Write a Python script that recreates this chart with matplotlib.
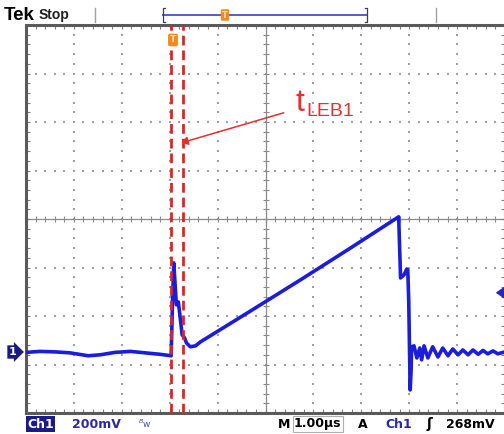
import matplotlib
matplotlib.use("Agg")
import matplotlib.pyplot as plt
import numpy as np
from matplotlib.patches import FancyArrowPatch

# ---------------- data ----------------
# time in microseconds from left edge of screen, voltage in mV relative to ground
t_us = [0.00, 0.29, 0.61, 0.92, 1.30, 1.55, 1.86, 2.18, 2.49, 2.80, 3.03,
        3.06, 3.085, 3.12, 3.14, 3.18, 3.22, 3.26, 3.31, 3.35, 3.43, 3.54, 3.64,
        4.69, 5.73, 6.78, 7.78,
        7.82, 7.89, 7.95, 7.97, 7.99, 8.02, 8.04, 8.05, 8.10, 8.16, 8.22, 8.26,
        8.31, 8.39, 8.49, 8.60, 8.70, 8.81, 8.91, 9.02, 9.12, 9.23, 9.33, 9.44,
        9.54, 9.64, 9.75, 9.85, 10.0]
v_mV = [-2, 2, 0, -4, -16, -12, -2, 2, -4, -10, -16,
        214, 367, 256, 194, 206, 140, 70, 58, 37, 21, 25, 41,
        169, 297, 429, 557,
        305, 317, 342, 338, 214, -157, -74, 21, 25, -25, 16, -33,
        25, -25, 21, -21, 16, -16, 12, -12, 8, -12, 8, -10,
        6, -8, 4, -8, 0]
volts_per_div_mV = 200
ground_div = -2.74          # ground marker position in divisions from centre
cursor_t = [3.03, 3.28]     # LEB cursor positions (us)
trig_level_div = -1.52      # trigger level arrow position (divisions from centre)

W, H = 504, 434
fig = plt.figure(figsize=(W / 100, H / 100), dpi=100)
fig.patch.set_facecolor("white")

L, T, R, B = 26, 25, 505, 413
ax = fig.add_axes([L / W, 1 - B / H, (R - L) / W, (B - T) / H])
ax.set_xlim(0, 10)
ax.set_ylim(-4, 4)
ax.set_facecolor("white")

# border
for s in ax.spines.values():
    s.set_color("#5a5a5a")
    s.set_linewidth(2.2)
ax.set_xticks([])
ax.set_yticks([])
ax.set_xticks(np.arange(0, 10.01, 0.2), minor=True)
ax.set_yticks(np.arange(-4, 4.01, 0.2), minor=True)
ax.tick_params(which="minor", direction="in", length=3, width=0.8, color="#808080",
               top=True, right=True, labelbottom=False, labelleft=False)

# dotted graticule
gc = "#a0a0a0"
for gx in range(1, 10):
    if gx == 5:
        continue
    ys = np.arange(-4, 4.01, 0.2)
    ax.scatter(np.full_like(ys, gx), ys, s=2.0, color=gc, marker="s", lw=0, zorder=1)
for gy in range(-3, 4):
    if gy == 0:
        continue
    xs = np.arange(0, 10.01, 0.2)
    ax.scatter(xs, np.full_like(xs, gy), s=2.0, color=gc, marker="s", lw=0, zorder=1)

# centre crosshair with ticks
ax.axhline(0, color="#8a8a8a", lw=0.9, zorder=1)
ax.axvline(5, color="#8a8a8a", lw=0.9, zorder=1)
xs = np.arange(0, 10.01, 0.2)
ys = np.arange(-4, 4.01, 0.2)
ax.plot(xs, np.zeros_like(xs), ls="none", marker="|", ms=5, mew=0.8, color="#8a8a8a", zorder=1)
ax.plot(np.full_like(ys, 5), ys, ls="none", marker="_", ms=5, mew=0.8, color="#8a8a8a", zorder=1)

# waveform
y_div = np.array(v_mV) / volts_per_div_mV + ground_div
ax.plot(t_us, y_div, color="#1c1cdc", lw=2.6, solid_joinstyle="round", zorder=3)

# cursors
for ct in cursor_t:
    ax.axvline(ct, color="#e52222", lw=2.0, ls=(0, (3.5, 1.8)), zorder=4)

# annotation
red = "#e63030"
arr = FancyArrowPatch((5.38, 2.19), (3.24, 1.57), arrowstyle="-|>,head_length=4,head_width=2.5",
                      color=red, lw=1.1, zorder=5, shrinkA=0, shrinkB=0)
ax.add_patch(arr)

# -------------- overlay in pixel coordinates for screen chrome --------------
ov = fig.add_axes([0, 0, 1, 1], zorder=10)
ov.set_xlim(0, W)
ov.set_ylim(H, 0)
ov.axis("off")
ov.patch.set_visible(False)

ov.text(296, 111, "t", color=red, fontsize=23, family="Liberation Sans", va="baseline", ha="left")
ov.text(306, 116, "LEB1", color=red, fontsize=14, family="Liberation Sans", va="baseline", ha="left")

# top line
ov.text(4, 15, "Tek", fontsize=13.5, fontweight="heavy", family="Liberation Sans", color="black",
        va="center", ha="left")
ov.text(39, 15, "Stop", fontsize=10, fontweight="bold", family="Liberation Sans", color="#202020",
        va="center", ha="left")
ov.plot([95, 95], [8, 22], color="#a0a0a0", lw=1)
ov.plot([436, 436], [8, 22], color="#a0a0a0", lw=1)
bc = "#5a5ac8"
ov.plot([163, 367], [15, 15], color=bc, lw=1.4)
ov.plot([165, 163, 163, 165], [8, 8, 22, 22], color="#404040", lw=0.9)
ov.plot([365, 367, 367, 365], [8, 8, 22, 22], color="#404040", lw=0.9)
ov.text(225, 15, "T", fontsize=6, color="#ffe0b0", fontweight="bold", ha="center", va="center",
        bbox=dict(boxstyle="round,pad=0.15", fc="#f08a20", ec="none"))
# trigger position marker below top border
ov.text(173, 40, "T", fontsize=6.5, color="#ffe0b0", fontweight="bold", ha="center", va="center",
        bbox=dict(boxstyle="round,pad=0.2", fc="#f08a20", ec="none"))

# ground marker
ov.text(9, 352, "1", fontsize=8, color="white", fontweight="bold", ha="left", va="center",
        bbox=dict(boxstyle="rarrow,pad=0.15", fc="#1a1a80", ec="none"))
# trigger level arrow
ty = 219 - trig_level_div * 48.5
ov.annotate("", xy=(493, ty), xytext=(503, ty),
            arrowprops=dict(arrowstyle="-|>,head_length=0.5,head_width=0.35", color="#2525c0", lw=1.2))

# bottom status line
yb = 424
ov.text(27, yb, "Ch1", fontsize=9, color="white", fontweight="bold", ha="left", va="center",
        bbox=dict(boxstyle="square,pad=0.12", fc="#1a1a8a", ec="none"))
ov.text(72, yb, "200mV", fontsize=9, color="#2a2aa0", fontweight="bold", ha="left", va="center")
ov.text(138, yb, "$^{B}$w", fontsize=6.5, color="#4a4ab0", ha="left", va="center")
ov.text(278, yb, "M", fontsize=9, color="black", fontweight="bold", ha="left", va="center")
ov.text(294, yb, "1.00µs", fontsize=9, color="black", fontweight="bold", ha="left", va="center",
        bbox=dict(boxstyle="square,pad=0.1", fc="white", ec="#b0b0b0", lw=0.8))
ov.text(358, yb, "A", fontsize=9, color="black", fontweight="bold", ha="left", va="center")
ov.text(385, yb, "Ch1", fontsize=9, color="#2a2aa0", fontweight="bold", ha="left", va="center")
ov.text(426, yb, "ʃ", fontsize=10, color="black", fontweight="bold", ha="left", va="center")
ov.text(446, yb, "268mV", fontsize=9, color="black", fontweight="bold", ha="left", va="center")

fig.savefig("out.png", dpi=100, facecolor="white")
